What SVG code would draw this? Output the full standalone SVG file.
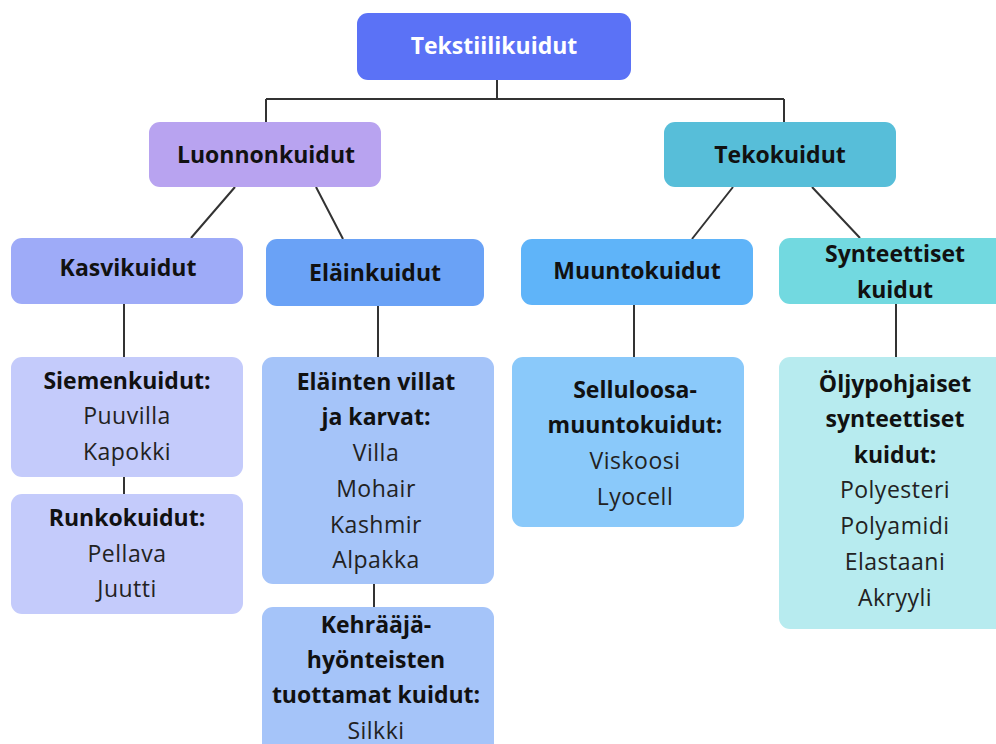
<svg xmlns="http://www.w3.org/2000/svg" width="996" height="744" viewBox="0 0 996 744">
<style>
.b{font-family:"Open Sans","Liberation Sans",sans-serif;font-weight:700;font-size:23px;text-anchor:middle;fill:#111}
.r{font-family:"Open Sans","Liberation Sans",sans-serif;font-weight:400;font-size:23px;text-anchor:middle;fill:#222;letter-spacing:0.5px}
.w{fill:#fff}
.c{stroke:#333;stroke-width:2;fill:none}
</style>
<rect width="996" height="744" fill="#fff"/>
<g id="connectors">
<path class="c" d="M497 80V99M266 99H784M266 99V122M784 99V122"/>
<path class="c" d="M235 187L191 238M316 187L343 239M733 187L692 239M812 187L860 238"/>
<path class="c" d="M124 304V357M378 306V357M634 305V357M896 304V357"/>
<path class="c" d="M124 477V494M374 584V607"/>
</g>
<g id="root"><rect x="357" y="13" width="274" height="67" rx="11" fill="#5b72f6"/><text class="b w" x="494" y="54">Tekstiilikuidut</text></g>
<g id="luonnonkuidut"><rect x="149" y="122" width="232" height="65" rx="11" fill="#b8a3f0"/><text class="b" x="266" y="163">Luonnonkuidut</text></g>
<g id="tekokuidut"><rect x="664" y="122" width="232" height="65" rx="11" fill="#57bed9"/><text class="b" x="780" y="163">Tekokuidut</text></g>
<g id="kasvikuidut"><rect x="11" y="238" width="232" height="66" rx="11" fill="#9eabf8"/><text class="b" x="128" y="276">Kasvikuidut</text></g>
<g id="elainkuidut"><rect x="266" y="239" width="218" height="67" rx="11" fill="#6aa2f6"/><text class="b" x="375" y="281">Eläinkuidut</text></g>
<g id="muuntokuidut"><rect x="521" y="239" width="232" height="66" rx="11" fill="#5fb4f9"/><text class="b" x="637" y="279">Muuntokuidut</text></g>
<g id="synteettiset"><rect x="779" y="238" width="232" height="66" rx="11" fill="#72d9e0"/><text class="b" x="895" y="262">Synteettiset</text><text class="b" x="895" y="298">kuidut</text></g>
<g id="siemenkuidut"><rect x="11" y="357" width="232" height="120" rx="11" fill="#c4cbfb"/><text class="b" x="127" y="389">Siemenkuidut:</text><text class="r" x="127" y="424">Puuvilla</text><text class="r" x="127" y="460">Kapokki</text></g>
<g id="runkokuidut"><rect x="11" y="494" width="232" height="120" rx="11" fill="#c4cbfb"/><text class="b" x="127" y="526">Runkokuidut:</text><text class="r" x="127" y="562">Pellava</text><text class="r" x="127" y="597">Juutti</text></g>
<g id="villat"><rect x="262" y="357" width="232" height="227" rx="11" fill="#a5c4f9"/><text class="b" x="376" y="390">Eläinten villat</text><text class="b" x="376" y="425">ja karvat:</text><text class="r" x="376" y="461">Villa</text><text class="r" x="376" y="497">Mohair</text><text class="r" x="376" y="533">Kashmir</text><text class="r" x="376" y="568">Alpakka</text></g>
<g id="kehraaja"><rect x="262" y="607" width="232" height="150" rx="11" fill="#a5c4f9"/><text class="b" x="376" y="633">Kehrääjä-</text><text class="b" x="376" y="668">hyönteisten</text><text class="b" x="376" y="703">tuottamat kuidut:</text><text class="r" x="376" y="739">Silkki</text></g>
<g id="selluloosa"><rect x="512" y="357" width="232" height="170" rx="11" fill="#8ac9fa"/><text class="b" x="635" y="398">Selluloosa-</text><text class="b" x="635" y="433">muuntokuidut:</text><text class="r" x="635" y="469">Viskoosi</text><text class="r" x="635" y="505">Lyocell</text></g>
<g id="oljypohjaiset"><rect x="779" y="357" width="232" height="272" rx="11" fill="#b7ebef"/><text class="b" x="895" y="392">Öljypohjaiset</text><text class="b" x="895" y="427">synteettiset</text><text class="b" x="895" y="463">kuidut:</text><text class="r" x="895" y="498">Polyesteri</text><text class="r" x="895" y="534">Polyamidi</text><text class="r" x="895" y="570">Elastaani</text><text class="r" x="895" y="606">Akryyli</text></g>
</svg>
